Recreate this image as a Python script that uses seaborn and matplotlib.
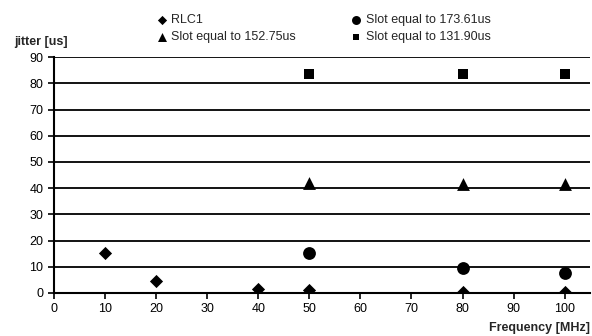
import matplotlib
matplotlib.use('Agg')
import matplotlib.pyplot as plt
import pandas as pd
import seaborn as sns

# data
rlc1_freq = [10, 20, 40, 50, 80, 100]
rlc1_jitter = [15.3, 4.5, 1.4, 1.0, 0.5, 0.5]

slot173_freq = [50, 80, 100]
slot173_jitter = [15.2, 9.5, 7.8]

slot152_freq = [50, 80, 100]
slot152_jitter = [42.0, 41.5, 41.5]

slot131_freq = [50, 80, 100]
slot131_jitter = [83.5, 83.5, 83.5]

series_names = ['RLC1', 'Slot equal to 173.61us', 'Slot equal to 152.75us', 'Slot equal to 131.90us']

frames = []
for name, fx, fy in zip(series_names,
                        [rlc1_freq, slot173_freq, slot152_freq, slot131_freq],
                        [rlc1_jitter, slot173_jitter, slot152_jitter, slot131_jitter]):
    frames.append(pd.DataFrame({'freq': fx, 'jitter': fy, 'series': name}))
df = pd.concat(frames, ignore_index=True)

sns.set_style('white')
plt.rcParams['font.family'] = ['Liberation Sans', 'DejaVu Sans']

fig = plt.figure(figsize=(5.92, 3.36), dpi=100)
ax = fig.add_axes([0.091, 0.128, 0.906, 0.702])

markers = {'RLC1': 'D', 'Slot equal to 173.61us': 'o',
           'Slot equal to 152.75us': '^', 'Slot equal to 131.90us': 's'}
sizes = {'RLC1': 45, 'Slot equal to 173.61us': 85,
         'Slot equal to 152.75us': 85, 'Slot equal to 131.90us': 50}

for name in series_names:
    sub = df[df['series'] == name]
    sns.scatterplot(data=sub, x='freq', y='jitter', marker=markers[name],
                    s=sizes[name], color='black', edgecolor='black',
                    linewidth=0, label=name, ax=ax, zorder=3)

ax.set_xlim(0, 105)
ax.set_ylim(0, 90)
ax.set_xticks(range(0, 101, 10))
ax.set_yticks(range(0, 91, 10))
ax.yaxis.grid(True, color='black', linewidth=1.3)
ax.xaxis.grid(False)
for side in ['top', 'right']:
    ax.spines[side].set_visible(False)
for side in ['left', 'bottom']:
    ax.spines[side].set_color('black')
    ax.spines[side].set_linewidth(1.5)
ax.tick_params(axis='both', direction='out', length=4, width=1.2,
               colors='black', labelsize=9, left=True, bottom=True)
ax.set_xlabel('')
ax.set_ylabel('')

fig.text(0.024, 0.865, 'jitter [us]', fontsize=9, fontweight='bold')
fig.text(0.997, 0.015, 'Frequency [MHz]', fontsize=9, fontweight='bold', ha='right')

handles, labels = ax.get_legend_handles_labels()
order = [0, 2, 1, 3]
ax.legend([handles[i] for i in order], [labels[i] for i in order],
          ncol=2, loc='lower left', bbox_to_anchor=(0.19, 1.06),
          frameon=False, fontsize=9, handletextpad=0.25, handlelength=1.0,
          columnspacing=4.3, labelspacing=0.4, markerscale=0.7,
          borderaxespad=0, borderpad=0)

fig.savefig('out.png', dpi=100)
